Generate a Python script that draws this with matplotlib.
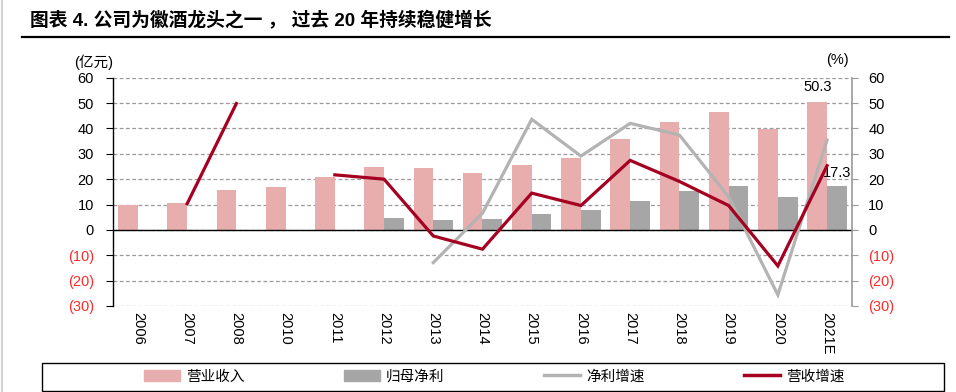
import numpy as np
import matplotlib
matplotlib.use("Agg")
from matplotlib import pyplot as plt
from matplotlib.patches import Rectangle, Patch
from matplotlib.lines import Line2D

plt.rcParams['font.family'] = ['Liberation Sans', 'Noto Sans CJK SC', 'DejaVu Sans']

years = ['2006', '2007', '2008', '2010', '2011', '2012', '2013', '2014',
         '2015', '2016', '2017', '2018', '2019', '2020', '2021E']
revenue = [9.8, 10.5, 15.6, 17.1, 20.8, 24.9, 24.3, 22.3, 25.6, 28.2, 35.8,
           42.4, 46.6, 39.8, 50.3]
profit = [np.nan, np.nan, np.nan, np.nan, np.nan, 4.6, 3.9, 4.3, 6.3, 7.9,
          11.3, 15.4, 17.3, 12.9, 17.3]
profit_growth = [np.nan, np.nan, np.nan, np.nan, np.nan, np.nan, -12.9, 6.6,
                 43.6, 29.1, 42.0, 37.4, 13.1, -25.6, 35.4]
revenue_growth = [np.nan, 10.3, 49.8, np.nan, 21.7, 20.0, -2.4, -7.6, 14.5,
                  9.6, 27.4, 19.1, 9.6, -14.2, 25.3]
yticks = [-30, -20, -10, 0, 10, 20, 30, 40, 50, 60]
ytick_labels = ['(30)', '(20)', '(10)', '0', '10', '20', '30', '40', '50', '60']

pink = '#E8AEAE'
grey_bar = '#A6A6A6'
grey_line = '#B3B3B3'
red = '#A50021'
neg_red = '#FF2A2A'

fig = plt.figure(figsize=(9.56, 3.92), dpi=100)
ax = fig.add_axes([0.1185, 0.2194, 0.7724, 0.5824])
ax2 = ax.twinx()

x = np.arange(len(years))
w = 0.4
ax.bar(x - w / 2, revenue, w, color=pink, zorder=2)
ax.bar(x + w / 2, profit, w, color=grey_bar, zorder=2)
ax2.plot(x, profit_growth, color=grey_line, lw=2.3, solid_joinstyle='miter')
ax2.plot(x, revenue_growth, color=red, lw=2.3, solid_joinstyle='miter')

ax.annotate(f'{revenue[-1]:.1f}', (x[-1] - w / 2, revenue[-1]), xytext=(0, 6),
            textcoords='offset points', ha='center', va='bottom', fontsize=10.5)
ax.annotate(f'{profit[-1]:.1f}', (x[-1] + w / 2, profit[-1]), xytext=(0, 4),
            textcoords='offset points', ha='center', va='bottom', fontsize=10.5)

for a in (ax, ax2):
    a.set_xlim(-0.5, len(years) - 0.5)
    a.set_ylim(-30, 60)
    a.set_yticks(yticks, ytick_labels)
    for lab, v in zip(a.get_yticklabels(), yticks):
        lab.set_color(neg_red if v < 0 else 'black')
    a.spines['top'].set_visible(False)

ax.set_axisbelow(True)
ax.yaxis.grid(True, ls=(0, (3, 2)), color='#9A9A9A', lw=0.9)
ax.tick_params(axis='y', labelsize=10.5, length=5, pad=9, color='black')
ax2.tick_params(axis='y', labelsize=10.5, length=4, pad=8, color='#999999')
ax.spines['right'].set_visible(False)
ax2.spines['left'].set_visible(False)
ax2.spines['bottom'].set_visible(False)
ax2.spines['right'].set_color('#999999')
ax2.spines['right'].set_linewidth(1.2)
ax.spines['left'].set_linewidth(1.0)

# zero line with ticks at category boundaries
ax.spines['bottom'].set_position(('data', 0))
ax.spines['bottom'].set_linewidth(1.0)
ax.set_xticks(np.arange(len(years) + 1) - 0.5)
ax.tick_params(axis='x', length=4, labelbottom=False, color='black')
ax2.set_xticks([])

sec = ax.secondary_xaxis(0.0)
sec.set_xticks(x, years)
sec.tick_params(axis='x', length=0, pad=4, labelsize=10.5, labelrotation=270)
sec.spines['bottom'].set_visible(False)

fig.text(0.078, 0.84, '(亿元)', fontsize=10.5, ha='left', va='center')
fig.text(0.876, 0.847, '(%)', fontsize=10.5, ha='center', va='center')

fig.text(0.031, 0.948, '图表 4. 公司为徽酒龙头之一 ， 过去 20 年持续稳健增长',
         fontsize=13.5, fontweight='bold', ha='left', va='center')
fig.add_artist(Line2D([0.023, 0.993], [0.906, 0.906], color='black', lw=1.6,
                      transform=fig.transFigure))
fig.add_artist(Line2D([0.002, 0.002], [0, 1], color='#D3D3D3', lw=1.5,
                      transform=fig.transFigure))

fig.add_artist(Rectangle((0.044, 0.003), 0.943, 0.072, fill=False,
                         edgecolor='black', lw=1.0, transform=fig.transFigure))
handles = [Patch(color=pink), Patch(color=grey_bar),
           Line2D([], [], color=grey_line, lw=2.5),
           Line2D([], [], color=red, lw=2.5)]
labels = ['营业收入', '归母净利', '净利增速', '营收增速']
fig.legend(handles, labels, loc='center', bbox_to_anchor=(0.517, 0.039),
           ncol=4, frameon=False, fontsize=10.5, handlelength=2.5,
           handleheight=0.8, handletextpad=0.4, columnspacing=6.8)

fig.savefig('out.png', dpi=100)
